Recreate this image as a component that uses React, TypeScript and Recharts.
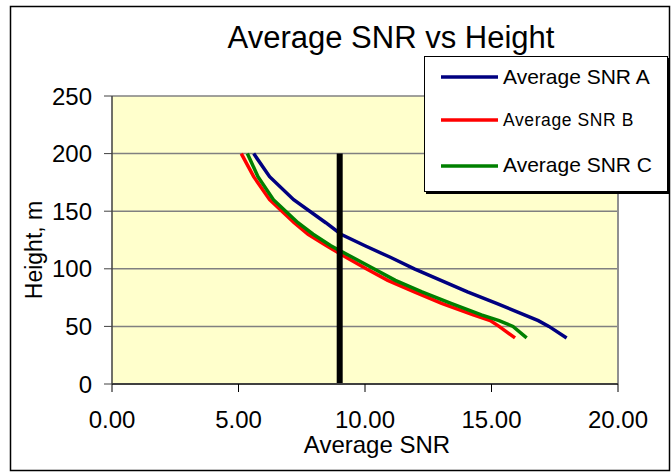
import React from 'react';
import { LineChart, Line, XAxis, YAxis, CartesianGrid, ReferenceLine } from 'recharts';

const FONT = '"Liberation Sans", Arial, sans-serif';

const heights = [200, 180, 160, 140, 130, 120, 110, 100, 90, 80, 70, 60, 55, 50, 40];
const snrA = [5.6, 6.23, 7.18, 8.45, 9.05, 10.0, 11.0, 11.95, 13.0, 14.05, 15.2, 16.3, 16.85, 17.27, 17.97];
const snrB = [5.11, 5.6, 6.23, 7.2, 7.75, 8.48, 9.25, 10.05, 10.9, 11.95, 13.03, 14.28, 14.95, 15.3, 15.93];
const snrC = [5.35, 5.77, 6.38, 7.35, 7.95, 8.65, 9.5, 10.35, 11.2, 12.25, 13.4, 14.6, 15.3, 15.85, 16.39];
const thresholdSnr = [9, 9];
const thresholdHeights = [0, 200];

const xTicks = [0, 5, 10, 15, 20];
const yTicks = [0, 50, 100, 150, 200, 250];

const seriesNames = ['Average SNR A', 'Average SNR B', 'Average SNR C'];
const seriesColors = ['#000080', '#FF0000', '#008000'];
const legendFontSizes = [21, 17.5, 21];

const toPoints = (xs: number[], hs: number[]) => xs.map((v, i) => ({ snr: v, h: hs[i] }));

const dataA = toPoints(snrA, heights);
const dataB = toPoints(snrB, heights);
const dataC = toPoints(snrC, heights);
const dataT = toPoints(thresholdSnr, thresholdHeights);
const seriesData = [dataA, dataB, dataC];

export default function App() {
  return (
    <div style={{ position: 'absolute', left: 0, top: 0, width: 671, height: 473, background: '#fff' }}>
      <LineChart
        width={671}
        height={473}
        margin={{ top: 96, right: 53, bottom: 29, left: 12 }}
        style={{ position: 'absolute', left: 0, top: 0 }}
      >
        <CartesianGrid vertical={false} stroke="#808080" strokeWidth={1.5} fill="#FFFFCC" fillOpacity={1} />
        <XAxis
          dataKey="snr"
          type="number"
          domain={[0, 20]}
          ticks={xTicks}
          allowDataOverflow
          tickFormatter={(v: number) => v.toFixed(2)}
          tick={{ fontSize: 24, fill: '#000', fontFamily: FONT }}
          tickSize={8}
          tickMargin={19}
          tickLine={{ stroke: '#000' }}
          axisLine={{ stroke: '#404040', strokeWidth: 2 }}
          height={60}
        />
        <YAxis
          type="number"
          domain={[0, 250]}
          ticks={yTicks}
          allowDataOverflow
          tick={{ fontSize: 24, fill: '#000', fontFamily: FONT }}
          tickSize={8}
          tickMargin={12}
          tickLine={{ stroke: '#404040' }}
          axisLine={{ stroke: '#404040', strokeWidth: 1.5 }}
          width={100}
        />
        <ReferenceLine x={20} stroke="#909090" strokeWidth={2} />
        {seriesData.map((d, i) => (
          <Line
            key={seriesNames[i]}
            data={d}
            dataKey="h"
            name={seriesNames[i]}
            type="linear"
            stroke={seriesColors[i]}
            strokeWidth={3.5}
            dot={false}
            isAnimationActive={false}
          />
        ))}
        <Line
          data={dataT}
          dataKey="h"
          name="threshold"
          type="linear"
          stroke="#000"
          strokeWidth={6}
          dot={false}
          legendType="none"
          isAnimationActive={false}
        />
      </LineChart>
      <svg
        width={671}
        height={473}
        style={{ position: 'absolute', left: 0, top: 0, pointerEvents: 'none' }}
        fontFamily={FONT}
      >
        <rect x={10.5} y={6.5} width={659} height={464} fill="none" stroke="#000" strokeWidth={1.5} />
        <text x={391} y={48} textAnchor="middle" fontSize={31} fill="#000">
          Average SNR vs Height
        </text>
        <text x={377} y={453} textAnchor="middle" fontSize={24} fill="#000">
          Average SNR
        </text>
        <text
          x={41.5}
          y={250}
          textAnchor="middle"
          fontSize={23}
          fill="#000"
          transform="rotate(-90 41.5 250)"
        >
          Height, m
        </text>
        <rect x={426} y={58} width={244} height={136} fill="#000" />
        <rect x={424.5} y={56.5} width={243} height={135} fill="#fff" stroke="#000" strokeWidth={1} />
        {seriesNames.map((name, i) => {
          const ys = [77, 120, 166];
          const bs = [83.5, 126, 172];
          return (
            <g key={name}>
              <line x1={441} x2={498} y1={ys[i]} y2={ys[i]} stroke={seriesColors[i]} strokeWidth={3.5} />
              <text
                x={503}
                y={bs[i]}
                fontSize={legendFontSizes[i]}
                fill="#000"
                letterSpacing={i === 1 ? 0.6 : 0}
              >
                {name}
              </text>
            </g>
          );
        })}
      </svg>
    </div>
  );
}
